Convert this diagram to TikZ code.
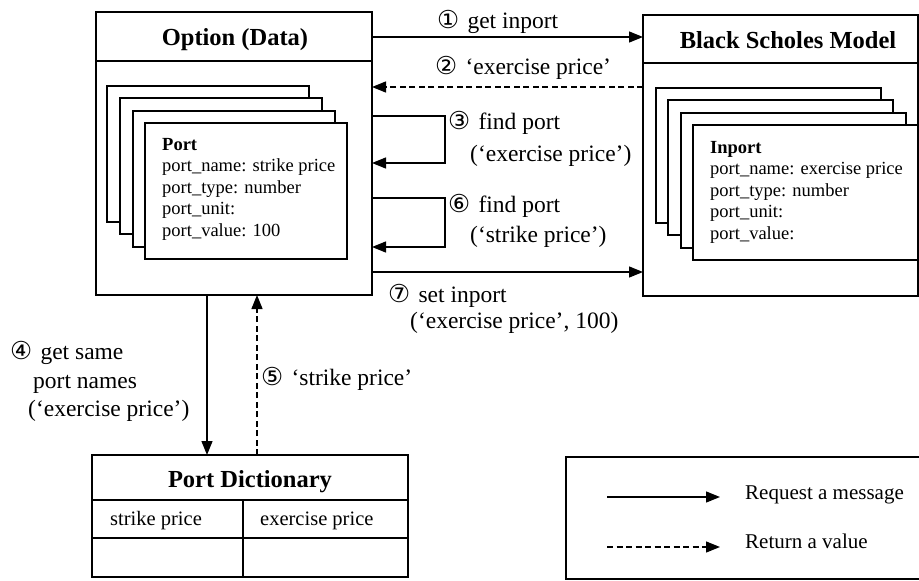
\documentclass[tikz,border=0pt]{standalone}
\usepackage{fontspec}
\setmainfont{Liberation Serif}
\newfontfamily\cnum{DejaVu Sans}[Scale=1.05]
\usetikzlibrary{arrows.meta}
\tikzset{
  box/.style={draw, line width=2.6pt, inner sep=0pt, outer sep=0pt, anchor=north west},
  rule/.style={line width=1.3pt},
  card/.style={draw, fill=white, line width=1.3pt, inner sep=0pt, outer sep=0pt, anchor=north west},
  title/.style={font=\fontsize{24.5}{28}\selectfont\bfseries, inner sep=0pt, anchor=base},
  cardtxt/.style={font=\fontsize{18.5}{21.5}\selectfont, inner sep=0pt, anchor=base west},
  lbl/.style={font=\fontsize{23.5}{27}\selectfont, inner sep=0pt, anchor=base west},
  cell/.style={font=\fontsize{20.5}{24}\selectfont, inner sep=0pt, anchor=base west},
  legtxt/.style={font=\fontsize{21}{25}\selectfont, inner sep=0pt, anchor=base west},
  req/.style={line width=1.3pt, -{Triangle[length=14pt,width=11pt]}},
  ret/.style={req, dash pattern=on 6pt off 3.5pt},
}
\newcommand{\cn}[1]{{\cnum #1}\hspace{0.35em}}
\begin{document}
\begin{tikzpicture}[x=1pt,y=-1pt]
\useasboundingbox (0,0) rectangle (919,581);

% ---------- main boxes ----------
\node[box, minimum width=276pt, minimum height=283pt] (opt) at (96,12) {};
\node[box, minimum width=275pt, minimum height=281pt] (bsm) at (643,15) {};
\node[box, minimum width=316pt, minimum height=122pt] (dict) at (92,455) {};

% header rules and table grid
\draw[rule] ([yshift=-49pt]opt.north west) -- ([yshift=-49pt]opt.north east);
\draw[rule] ([yshift=-48pt]bsm.north west) -- ([yshift=-48pt]bsm.north east);
\draw[rule] ([yshift=-45pt]dict.north west) -- ([yshift=-45pt]dict.north east);
\draw[rule] ([yshift=-83pt]dict.north west) -- ([yshift=-83pt]dict.north east);
\draw[rule] ([xshift=151pt,yshift=-45pt]dict.north west) -- ([xshift=151pt]dict.south west);

% titles
\node[title] (optT) at (235,45) {Option (Data)};
\node[title] (bsmT) at (788,48) {Black Scholes Model};
\node[title] (dictT) at (250,487) {Port Dictionary};

% ---------- stacked port cards (Option) ----------
\node[card, minimum width=202pt, minimum height=136pt] (oc1) at (107,86) {};
\node[card, minimum width=202pt, minimum height=136pt] (oc2) at (120,98) {};
\node[card, minimum width=202pt, minimum height=136pt] (oc3) at (133,111) {};
\node[card, minimum width=202pt, minimum height=136pt] (oc4) at (145,123) {};
\node[cardtxt] (optport) at (162,150) {\begin{tabular}[t]{@{}l@{}}
  \textbf{Port}\\ port\_name: strike price\\ port\_type: number\\ port\_unit:\\ port\_value: 100
\end{tabular}};

% ---------- stacked inport cards (Black Scholes) ----------
\node[card, minimum width=225pt, minimum height=135pt] (bc1) at (656,88) {};
\node[card, minimum width=225pt, minimum height=135pt] (bc2) at (668,100) {};
\node[card, minimum width=225pt, minimum height=135pt] (bc3) at (681,113) {};
\node[card, minimum width=225pt, minimum height=135pt] (bc4) at (693,125) {};
\node[cardtxt] (bsmport) at (710,153) {\begin{tabular}[t]{@{}l@{}}
  \textbf{Inport}\\ port\_name: exercise price\\ port\_type: number\\ port\_unit:\\ port\_value:
\end{tabular}};

% dictionary cells
\node[cell] (cellA) at (110,525) {strike price};
\node[cell] (cellB) at (260,525) {exercise price};

% ---------- message rows ----------
\coordinate (y1) at (0,37);
\coordinate (y2) at (0,87);
\coordinate (y3a) at (0,116);
\coordinate (y3b) at (0,163);
\coordinate (y6a) at (0,198);
\coordinate (y6b) at (0,247);
\coordinate (y7) at (0,272);
\coordinate (x4) at (207,0);
\coordinate (x5) at (257,0);

\draw[req] (opt.east |- y1) -- (bsm.west |- y1);
\draw[ret] (bsm.west |- y2) -- (opt.east |- y2);
\draw[req] (opt.east |- y3a) -- ++(73,0) |- (opt.east |- y3b);
\draw[req] (opt.east |- y6a) -- ++(73,0) |- (opt.east |- y6b);
\draw[req] (opt.east |- y7) -- (bsm.west |- y7);
\draw[req] (opt.south -| x4) -- (dict.north -| x4);
\draw[ret] (dict.north -| x5) -- (opt.south -| x5);

% message labels
\node[lbl] (m1) at (437,28) {\cn{①}get inport};
\node[lbl] (m2) at (435,74) {\cn{②}‘exercise price’};
\node[lbl] (m3a) at (448,129) {\cn{③}find port};
\node[lbl] (m3b) at (470,161) {(‘exercise price’)};
\node[lbl] (m6a) at (448,212) {\cn{⑥}find port};
\node[lbl] (m6b) at (470,242) {(‘strike price’)};
\node[lbl] (m7a) at (388,302) {\cn{⑦}set inport};
\node[lbl] (m7b) at (410,328) {(‘exercise price’, 100)};
\node[lbl] (m4a) at (10,359) {\cn{④}get same};
\node[lbl] (m4b) at (33,388) {port names};
\node[lbl] (m4c) at (28,416) {(‘exercise price’)};
\node[lbl] (m5) at (261,385) {\cn{⑤}‘strike price’};

% ---------- legend ----------
\node[draw, line width=1.6pt, inner sep=0pt, outer sep=0pt, anchor=north west,
      minimum width=400pt, minimum height=122pt] (legend) at (566,457) {};
\coordinate (la) at (607,497);
\coordinate (lb) at (720,497);
\coordinate (lc) at (607,547);
\coordinate (ld) at (720,547);
\draw[req] (la) -- (lb);
\draw[ret] (lc) -- (ld);
\node[legtxt] (lt1) at (745,499) {Request a message};
\node[legtxt] (lt2) at (745,548) {Return a value};
\end{tikzpicture}
\end{document}
